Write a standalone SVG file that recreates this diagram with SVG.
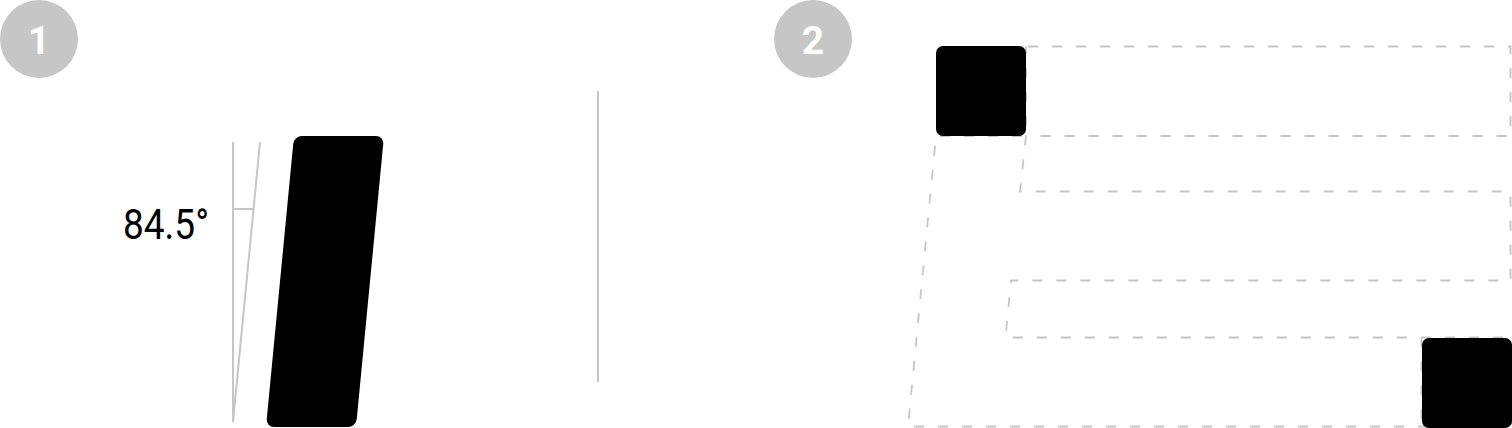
<svg xmlns="http://www.w3.org/2000/svg" width="1512" height="428" viewBox="0 0 1512 428">
<style>
.badge{fill:#c6c6c6}
.badge-t{fill:#ffffff;font-family:Roboto,"Liberation Sans",sans-serif;font-weight:700;font-size:39px;text-anchor:middle}
.guide{stroke:#c6c6c6;stroke-width:2;fill:none}
.dash{stroke:#c6c6c6;stroke-width:1.8;fill:none;stroke-dasharray:10 14}
.blk{fill:#000000}
.lbl{font-family:Roboto,"Liberation Sans",sans-serif;font-size:42px;fill:#000000}
</style>
<rect width="1512" height="428" fill="#ffffff"/>
<g id="badge1">
<circle class="badge" cx="39" cy="39" r="39"/>
<text class="badge-t" x="39" y="53.5">1</text>
</g>
<g id="badge2">
<circle class="badge" cx="813" cy="39" r="39"/>
<text class="badge-t" x="813" y="53.5">2</text>
</g>
<g id="angle">
<line class="guide" x1="233" y1="142" x2="233" y2="422"/>
<line class="guide" x1="260" y1="142" x2="233" y2="422"/>
<line class="guide" x1="233" y1="209" x2="253.5" y2="209"/>
<text class="lbl" x="123" y="239" textLength="86" lengthAdjust="spacingAndGlyphs">84.5°</text>
</g>
<g id="slanted-bar">
<rect class="blk" transform="translate(294,136) skewX(-5.5)" x="0" y="0" width="90" height="291" rx="8"/>
</g>
<g id="divider">
<line class="guide" x1="598" y1="91" x2="598" y2="382"/>
</g>
<g id="connectors">
<path class="dash" d="M1028,46.5 H1510.5 V136 H1026 L1020,191.5 H1510.5 V280.5 H1011 L1005.5,337.5 H1512 V426.5 H908 L936,136 H1026 V46.5"/>
<line class="dash" x1="1421.5" y1="337.5" x2="1421.5" y2="426.5"/>
</g>
<g id="start-square">
<rect class="blk" x="936" y="46" width="90" height="90" rx="7"/>
</g>
<g id="end-square">
<rect class="blk" x="1422" y="338" width="90" height="90" rx="7"/>
</g>
</svg>
